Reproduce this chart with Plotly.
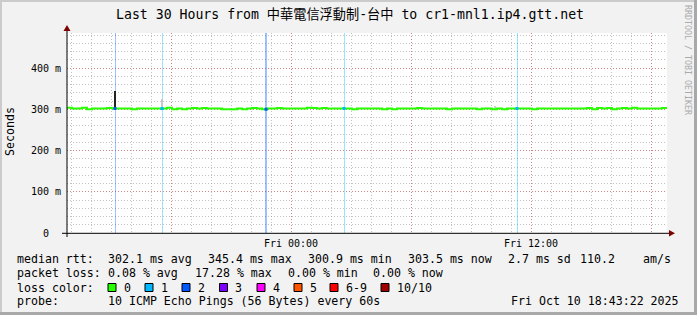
import plotly.graph_objects as go
import pandas as pd

# ------------------------------------------------------------------ data
t_start = "2025-10-09 12:48"
t_end = "2025-10-10 18:48"
step_minutes = 15

# median RTT (ms) per 15-minute step
median_ms = [
    303.5, 302.0, 301.9, 303.6, 300.0, 302.1, 301.8, 302.2, 303.4, 302.0,
    301.9, 302.1, 302.0, 300.1, 302.1, 302.0, 301.9, 302.2, 302.0, 301.8,
    303.5, 300.2, 302.0, 300.0, 302.1, 303.4, 302.0, 303.3, 302.0, 301.9,
    302.1, 300.1, 299.8, 300.2, 302.0, 300.1, 302.2, 303.4, 302.0, 300.2,
    302.1, 302.0, 303.3, 302.1, 302.0, 301.9, 302.1, 302.0, 303.5, 303.4,
    302.0, 303.3, 302.1, 301.9, 302.2, 302.0, 302.1, 300.1, 302.0, 301.9,
    302.1, 302.0, 302.2, 300.3, 302.0, 300.0, 302.1, 302.0, 301.9, 302.2,
    303.3, 302.0, 302.1, 301.9, 302.0, 302.1, 300.1, 302.0, 302.2, 301.9,
    302.0, 302.1, 300.2, 302.0, 301.9, 300.1, 302.0, 300.2, 302.1, 302.0,
    301.9, 302.1, 302.0, 300.1, 302.2, 301.9, 302.0, 302.1, 301.9, 302.0,
    302.1, 302.0, 301.9, 302.2, 303.4, 300.2, 303.3, 302.0, 303.4, 300.1,
    302.1, 303.3, 302.0, 303.5, 302.1, 301.9, 302.0, 302.2, 302.0, 303.3,
]

# packet-loss events (pings lost out of 10) and their duration
loss_times = ["2025-10-09 15:12", "2025-10-09 17:33", "2025-10-09 22:45",
              "2025-10-10 02:39", "2025-10-10 11:18"]
loss_count = [2, 1, 2, 1, 1]
loss_duration_min = [3, 3, 7, 3, 3]

# smoke (spread of the individual pings), ms
smoke_times = ["2025-10-09 15:12", "2025-10-09 17:33", "2025-10-10 10:12"]
smoke_lo_ms = [301.5, 303.0, 303.0]
smoke_hi_ms = [345.4, 325.5, 307.0]
smoke_shade = ["#222222", "#c8c8c8", "#cccccc"]

y_max = 0.485
y_tickvals = [0, 0.1, 0.2, 0.3, 0.4]
y_ticktext = ["0\u00a0\u00a0", "100 m", "200 m", "300 m", "400 m"]
x_tickvals = ["2025-10-09 18:00", "2025-10-10 00:00", "2025-10-10 06:00",
              "2025-10-10 12:00", "2025-10-10 18:00"]
x_ticktext = ["", "Fri 00:00", "", "Fri 12:00", ""]

title_text = "Last 30 Hours from 中華電信浮動制-台中 to cr1-mnl1.ip4.gtt.net"
rtt_items = ["302.1 ms avg", "345.4 ms max", "300.9 ms min", "303.5 ms now",
             "2.7 ms sd", "110.2", "am/s"]
loss_items = ["0.08 % avg", "17.28 % max", "0.00 % min", "0.00 % now"]
loss_labels = ["0", "1", "2", "3", "4", "5", "6-9", "10/10"]
loss_colors = ["#26ff00", "#00b8ff", "#0059ff", "#7e00ff", "#ff00ff",
               "#ff5500", "#ff0000", "#a10000"]
probe_text = "10 ICMP Echo Pings (56 Bytes) every 60s"
stamp_text = "Fri Oct 10 18:43:22 2025"

# ------------------------------------------------------------------ layout helpers
W, H = 697, 315
L, R, T, B = 67, 667, 33, 233


def px(x):
    return (x - L) / (R - L)


def py(y):
    return (B - y) / (B - T)


MONO = "DejaVu Sans Mono, Noto Sans CJK TC, monospace"

times = pd.date_range(t_start, periods=len(median_ms), freq=f"{step_minutes}min")
line_x = list(times) + [pd.Timestamp(t_end)]
line_y = [v / 1000 for v in median_ms] + [median_ms[-1] / 1000]

fig = go.Figure()

# loss background bars (full height)
loss_rgba = {1: "rgba(0,184,255,0.40)", 2: "rgba(0,89,255,0.38)"}
fig.add_trace(go.Bar(
    x=pd.to_datetime(loss_times), y=[y_max] * len(loss_times), base=0,
    width=[d * 60000 for d in loss_duration_min],
    marker=dict(color=[loss_rgba[c] for c in loss_count], line=dict(width=0)),
    hoverinfo="skip", showlegend=False,
))

# smoke
fig.add_trace(go.Bar(
    x=pd.to_datetime(smoke_times),
    y=[(h - l) / 1000 for h, l in zip(smoke_hi_ms, smoke_lo_ms)],
    base=[l / 1000 for l in smoke_lo_ms],
    width=[6 * 60000] * len(smoke_times),
    marker=dict(color=smoke_shade, line=dict(width=0)),
    hoverinfo="skip", showlegend=False,
))

# median line
fig.add_trace(go.Scatter(
    x=line_x, y=line_y, mode="lines", line=dict(color=loss_colors[0], width=2, shape="hv"),
    hoverinfo="skip", showlegend=False,
))

# median points coloured by loss
t0 = pd.Timestamp(t_start)
lt = pd.to_datetime(loss_times)
idx = [int((t - t0).total_seconds() // (step_minutes * 60)) for t in lt]
fig.add_trace(go.Scatter(
    x=lt, y=[median_ms[i] / 1000 for i in idx], mode="markers",
    marker=dict(symbol="square", size=3, color=[loss_colors[c] for c in loss_count], line=dict(width=0)),
    hoverinfo="skip", showlegend=False,
))

shapes = []
# 3D frame
shapes.append(dict(type="rect", xref="paper", yref="paper", x0=px(0), x1=px(2), y0=py(0), y1=py(H),
                   fillcolor="#cbcbcb", line=dict(width=0), layer="above"))
shapes.append(dict(type="rect", xref="paper", yref="paper", x0=px(0), x1=px(W), y0=py(0), y1=py(2),
                   fillcolor="#cbcbcb", line=dict(width=0), layer="above"))
shapes.append(dict(type="rect", xref="paper", yref="paper", x0=px(W - 3), x1=px(W), y0=py(0), y1=py(H),
                   fillcolor="#a8a8a8", line=dict(width=0), layer="above"))
shapes.append(dict(type="rect", xref="paper", yref="paper", x0=px(0), x1=px(W), y0=py(H - 3), y1=py(H),
                   fillcolor="#a8a8a8", line=dict(width=0), layer="above"))
# axes
shapes.append(dict(type="line", xref="paper", yref="paper", x0=px(62), x1=px(669), y0=py(233.3), y1=py(233.3),
                   line=dict(color="#000000", width=1), layer="above"))
shapes.append(dict(type="line", xref="paper", yref="paper", x0=px(67), x1=px(67), y0=py(237), y1=py(30),
                   line=dict(color="#000000", width=1), layer="above"))
# arrows
shapes.append(dict(type="path", xref="paper", yref="paper",
                   path=f"M {px(63.5)},{py(31)} L {px(70.5)},{py(31)} L {px(67)},{py(25)} Z",
                   fillcolor="#7f0000", line=dict(width=0), layer="above"))
shapes.append(dict(type="path", xref="paper", yref="paper",
                   path=f"M {px(669)},{py(230)} L {px(669)},{py(236.6)} L {px(675)},{py(233.3)} Z",
                   fillcolor="#7f0000", line=dict(width=0), layer="above"))

annotations = []


def text(x, y, s, size=11.6, anchor="left", color="#000000", angle=0):
    annotations.append(dict(xref="paper", yref="paper", x=px(x), y=py(y), text=s, showarrow=False,
                            xanchor=anchor, yanchor="middle", textangle=angle, borderpad=0,
                            font=dict(family=MONO, size=size, color=color)))


text(114.7, 15, title_text, size=13.2)
text(10, 132, "Seconds", size=11.6, anchor="center", angle=-90)
text(688, 60, "RRDTOOL / TOBI OETIKER", size=8.3, anchor="center", color="#aaaaaa", angle=90)

# legend rows
text(16, 259, "median rtt:")
for s, x in zip(rtt_items, [107, 207, 307, 407, 507, 579, 642]):
    text(x, 259, s)
text(16, 273, "packet loss:")
for s, x in zip(loss_items, [107, 194, 287, 372]):
    text(x, 273, s)
text(16, 287.5, "loss color:")
box_x = [108, 145, 182, 219.5, 257, 294, 330, 381]
for lab, col, bx in zip(loss_labels, loss_colors, box_x):
    shapes.append(dict(type="rect", xref="paper", yref="paper", x0=px(bx), x1=px(bx + 8),
                       y0=py(291.5), y1=py(283.5), fillcolor=col, line=dict(color="#000000", width=1),
                       layer="above"))
    text(bx + 14.5, 287.5, lab)
text(16, 301, "probe:")
text(107, 301, probe_text)
text(680, 301, stamp_text, anchor="right")

grid_minor = "rgba(143,143,143,0.55)"
grid_major = "rgba(222,72,72,0.50)"

fig.update_layout(
    width=W, height=H, autosize=False,
    margin=dict(l=L, r=W - R, t=T, b=H - B, pad=0),
    paper_bgcolor="#f2f2f2", plot_bgcolor="#ffffff",
    barmode="overlay", bargap=0, showlegend=False,
    shapes=shapes, annotations=annotations,
    xaxis=dict(
        type="date", range=[t_start, t_end], fixedrange=True,
        tickmode="array", tickvals=x_tickvals, ticktext=x_ticktext,
        showgrid=True, gridcolor=grid_major, griddash="1px,2px", gridwidth=1,
        ticks="", showline=False, zeroline=False, ticklabelstandoff=3,
        tickfont=dict(family=MONO, size=10, color="#000000"),
        minor=dict(tick0="2025-10-09 13:00", dtick=3600000, showgrid=True,
                   gridcolor=grid_minor, griddash="1px,2px", gridwidth=1),
    ),
    yaxis=dict(
        range=[0, y_max], fixedrange=True,
        tickmode="array", tickvals=y_tickvals, ticktext=y_ticktext,
        showgrid=True, gridcolor=grid_major, griddash="1px,2px", gridwidth=1,
        ticks="", showline=False, zeroline=False, ticklabelstandoff=5,
        tickfont=dict(family=MONO, size=10, color="#000000"),
        minor=dict(tick0=0, dtick=0.02, showgrid=True,
                   gridcolor=grid_minor, griddash="1px,2px", gridwidth=1),
    ),
)

fig.write_html("out.html")
